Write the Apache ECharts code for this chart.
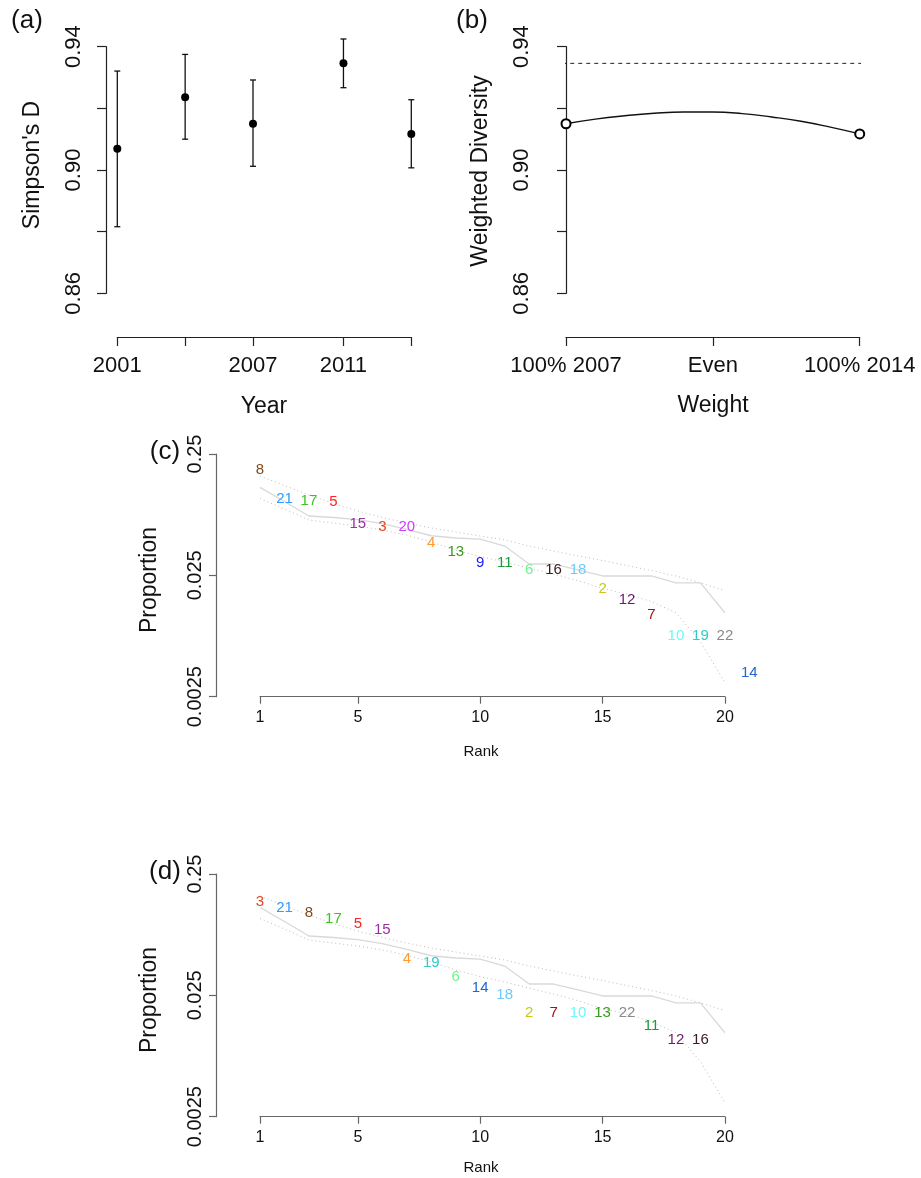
<!DOCTYPE html>
<html><head><meta charset="utf-8">
<script src="https://cdn.jsdelivr.net/npm/echarts@6/dist/echarts.min.js"></script>
<style>html,body{margin:0;padding:0;background:#fff}#chart{width:921px;height:1178px}</style>
</head><body><div id="chart"></div>
<script>
// ---------- Panel (a): Simpson's D by year ----------
const years = [2001, 2004, 2007, 2011, 2014];
const simpsonD = [0.9069, 0.9236, 0.9150, 0.9346, 0.9117];
const simpsonLow = [0.8816, 0.9100, 0.9012, 0.9267, 0.9007];
const simpsonHigh = [0.9321, 0.9375, 0.9292, 0.9425, 0.9228];
const yearTicks = [2001, 2004, 2007, 2011, 2014];
const yearLabels = [2001, 2007, 2011];
const diversityTicks = [0.86, 0.88, 0.90, 0.92, 0.94];
const diversityLabels = [0.86, 0.90, 0.94];

// ---------- Panel (b): weighted diversity ----------
const weights = [0, 0.1, 0.2, 0.3, 0.4, 0.5, 0.6, 0.7, 0.8, 0.9, 1.0];
const weightedDiversity = [0.9150, 0.9165, 0.9176, 0.9184, 0.9188, 0.9188, 0.9183, 0.9172, 0.9158, 0.9139, 0.9117];
const weightTicks = [0, 0.5, 1];
const weightTickLabels = ['100% 2007', 'Even', '100% 2014'];
const maxDiversity = 0.9346;
const weightPlotRange = [-0.04, 1.04];

// ---------- Panels (c), (d): rank abundance ----------
const ranks = [1, 2, 3, 4, 5, 6, 7, 8, 9, 10, 11, 12, 13, 14, 15, 16, 17, 18, 19, 20];
const nullMedian = [0.1328, 0.1015, 0.0771, 0.0749, 0.0721, 0.0668, 0.0598, 0.0530, 0.0508, 0.0497, 0.0436, 0.0310, 0.0310, 0.0277, 0.0247, 0.0247, 0.0247, 0.0217, 0.0217, 0.0123];
const nullUpper = [0.1646, 0.1375, 0.1148, 0.0977, 0.0847, 0.0749, 0.0675, 0.0614, 0.0569, 0.0527, 0.0489, 0.0436, 0.0397, 0.0361, 0.0331, 0.0301, 0.0274, 0.0247, 0.0217, 0.0187];
const nullLower = [0.1075, 0.0880, 0.0714, 0.0675, 0.0637, 0.0591, 0.0537, 0.0470, 0.0404, 0.0357, 0.0322, 0.0287, 0.0256, 0.0226, 0.0195, 0.0175, 0.0152, 0.0123, 0.00711, 0.00327];
const rankTicks = [1, 5, 10, 15, 20];
const proportionTicks = [0.0025, 0.025, 0.25];

const speciesC = ['8', '21', '17', '5', '15', '3', '20', '4', '13', '9', '11', '6', '16', '18', '2', '12', '7', '10', '19', '22', '14'];
const proportionC = [0.1845, 0.1064, 0.1031, 0.0999, 0.0662, 0.0629, 0.0629, 0.0464, 0.0391, 0.0314, 0.0314, 0.0277, 0.0277, 0.0277, 0.01953, 0.01563, 0.01177, 0.0079, 0.0079, 0.0079, 0.00394];
const speciesD = ['3', '21', '8', '17', '5', '15', '4', '19', '6', '14', '18', '2', '7', '10', '13', '22', '11', '12', '16'];
const proportionD = [0.1478, 0.1303, 0.1199, 0.1058, 0.0967, 0.0863, 0.0495, 0.0464, 0.0356, 0.02855, 0.0251, 0.01777, 0.01777, 0.01777, 0.01777, 0.01777, 0.01403, 0.0107, 0.0107];

const speciesColors = {
  '2': '#C9C914', '3': '#E0481F', '4': '#FF9A2E', '5': '#FF2222', '6': '#6CF58C',
  '7': '#A31515', '8': '#7E4A1E', '9': '#1A1AFF', '10': '#6CF9F9', '11': '#1A9A3A',
  '12': '#6E1A6E', '13': '#3A9A1F', '14': '#1F66D1', '15': '#9A2FA0', '16': '#3A1C1C',
  '17': '#3BC41F', '18': '#6CCBFF', '19': '#2FCACA', '20': '#D03BFF', '21': '#2E9BFF',
  '22': '#8A8A8A'
};

const FONT = '"Liberation Sans", Arial, Helvetica, sans-serif';
const chart = echarts.init(document.getElementById('chart'), null, {renderer: 'canvas'});

const darkAxis = '#222';
const greyAxis = '#666';

function topAxisX(gridIndex, min, max, ticks, labels, fmt) {
  return {
    type: 'value', gridIndex, min, max, offset: 43.7,
    axisLine: {show: true, onZero: false, lineStyle: {color: darkAxis, width: 1.2}},
    axisTick: {show: true, length: 9, customValues: ticks, lineStyle: {color: darkAxis, width: 1.2}},
    axisLabel: {show: true, customValues: labels, formatter: fmt, margin: 18, fontSize: 22, color: '#111', fontFamily: FONT},
    splitLine: {show: false}
  };
}
function topAxisY(gridIndex, offset) {
  return {
    type: 'value', gridIndex, min: 0.86, max: 0.94, interval: 0.02, offset,
    axisLine: {show: true, lineStyle: {color: darkAxis, width: 1.2}},
    axisTick: {show: true, length: 9, customValues: diversityTicks, lineStyle: {color: darkAxis, width: 1.2}},
    axisLabel: {show: true, customValues: diversityLabels, rotate: 90, margin: 21, fontSize: 22, color: '#111', fontFamily: FONT,
      formatter: v => v.toFixed(2)},
    splitLine: {show: false}
  };
}
function rankAxisX(gridIndex) {
  return {
    type: 'value', gridIndex, min: 1, max: 20,
    axisLine: {show: true, onZero: false, lineStyle: {color: greyAxis, width: 1.2}},
    axisTick: {show: true, length: 7, customValues: rankTicks, lineStyle: {color: greyAxis, width: 1.2}},
    axisLabel: {show: true, customValues: rankTicks, margin: 13, fontSize: 16, color: '#111', fontFamily: FONT,
      formatter: v => String(Math.round(v))},
    splitLine: {show: false}
  };
}
function propAxisY(gridIndex) {
  return {
    type: 'log', logBase: 10, gridIndex, min: 0.0025, max: 0.25, offset: 44,
    axisLine: {show: true, lineStyle: {color: greyAxis, width: 1.2}},
    axisTick: {show: true, length: 7, customValues: proportionTicks, lineStyle: {color: greyAxis, width: 1.2}},
    axisLabel: {show: true, customValues: proportionTicks, rotate: 90, margin: 11, fontSize: 20, color: '#111', fontFamily: FONT,
      formatter: v => String(parseFloat(Number(v).toPrecision(3)))},
    splitLine: {show: false}, minorTick: {show: false}, minorSplitLine: {show: false}
  };
}

function nullLines(xi, yi) {
  const mk = (vals, type, color, width) => ({
    type: 'line', xAxisIndex: xi, yAxisIndex: yi, symbol: 'none', silent: true, z: 1,
    data: ranks.map((r, i) => [r, vals[i]]),
    lineStyle: {color, width, type}
  });
  return [
    mk(nullUpper, [1, 3], '#bdbdbd', 1),
    mk(nullLower, [1, 3], '#bdbdbd', 1),
    mk(nullMedian, 'solid', '#d9d9d9', 1.3)
  ];
}
function speciesLabels(xi, yi, species, props) {
  return {
    type: 'scatter', xAxisIndex: xi, yAxisIndex: yi, clip: false, z: 5, silent: true,
    symbolSize: 0, itemStyle: {color: 'transparent', opacity: 1},
    data: species.map((s, i) => ({name: s, value: [i + 1, props[i]],
      label: {color: speciesColors[s], textBorderWidth: 0}})),
    label: {show: true, position: 'inside', formatter: p => p.name, fontSize: 15, fontFamily: FONT,
      opacity: 1, textBorderWidth: 0}
  };
}

const panelText = (text, x, y, size, rot) => ({
  type: 'text', x, y, rotation: rot || 0,
  style: {text, fontSize: size, fontFamily: FONT, fill: '#111', align: 'center', verticalAlign: 'middle'}
});

const option = {
  animation: false,
  backgroundColor: '#fff',
  textStyle: {fontFamily: FONT},
  grid: [
    {left: 117.3, top: 46.7, width: 294, height: 246.6, containLabel: false, outerBoundsMode: 'none'},
    {left: 566, top: 46.7, width: 293.7, height: 246.6, containLabel: false, outerBoundsMode: 'none'},
    {left: 260, top: 454, width: 464.9, height: 242.7, containLabel: false, outerBoundsMode: 'none'},
    {left: 260, top: 874, width: 464.9, height: 242.7, containLabel: false, outerBoundsMode: 'none'}
  ],
  xAxis: [
    topAxisX(0, 2001, 2014, yearTicks, yearLabels, v => String(Math.round(v))),
    topAxisX(1, 0, 1, weightTicks, weightTicks, v => weightTickLabels[weightTicks.indexOf(Math.round(v * 2) / 2)] || ''),
    rankAxisX(2),
    rankAxisX(3)
  ],
  yAxis: [
    topAxisY(0, 11.3),
    topAxisY(1, 11.7),
    propAxisY(2),
    propAxisY(3)
  ],
  graphic: [
    panelText('(a)', 27, 21, 26),
    panelText('(b)', 472, 21, 26),
    panelText('(c)', 165, 452, 26),
    panelText('(d)', 165, 872, 26),
    panelText("Simpson's D", 33, 165, 23, Math.PI / 2),
    panelText('Weighted Diversity', 481, 171, 23, Math.PI / 2),
    panelText('Year', 264, 407, 23),
    panelText('Weight', 713, 406, 23),
    panelText('Proportion', 150, 580, 23, Math.PI / 2),
    panelText('Proportion', 150, 1000, 23, Math.PI / 2),
    panelText('Rank', 481, 752, 15),
    panelText('Rank', 481, 1168, 15)
  ],
  series: [
    // (a) error bars
    {
      type: 'custom', xAxisIndex: 0, yAxisIndex: 0, clip: false, silent: true, z: 2,
      data: years.map((y, i) => [y, simpsonLow[i], simpsonHigh[i]]),
      renderItem: (params, api) => {
        const lo = api.coord([api.value(0), api.value(1)]);
        const hi = api.coord([api.value(0), api.value(2)]);
        const w = 3;
        const st = {stroke: '#111', lineWidth: 1.3};
        return {type: 'group', children: [
          {type: 'line', shape: {x1: lo[0], y1: lo[1], x2: hi[0], y2: hi[1]}, style: st},
          {type: 'line', shape: {x1: lo[0] - w, y1: lo[1], x2: lo[0] + w, y2: lo[1]}, style: st},
          {type: 'line', shape: {x1: hi[0] - w, y1: hi[1], x2: hi[0] + w, y2: hi[1]}, style: st}
        ]};
      }
    },
    {
      type: 'scatter', xAxisIndex: 0, yAxisIndex: 0, clip: false, z: 3, silent: true,
      symbol: 'circle', symbolSize: 8, itemStyle: {color: '#000', opacity: 1},
      data: years.map((y, i) => [y, simpsonD[i]])
    },
    // (b)
    {
      type: 'line', xAxisIndex: 1, yAxisIndex: 1, clip: false, symbol: 'none', silent: true,
      data: weightPlotRange.map(w => [w, maxDiversity]),
      lineStyle: {color: '#222', width: 1, type: [4, 4]}
    },
    {
      type: 'line', xAxisIndex: 1, yAxisIndex: 1, smooth: true, symbol: 'none', silent: true,
      data: weights.map((w, i) => [w, weightedDiversity[i]]),
      lineStyle: {color: '#111', width: 1.4}
    },
    {
      type: 'scatter', xAxisIndex: 1, yAxisIndex: 1, clip: false, silent: true, z: 4,
      symbol: 'circle', symbolSize: 9,
      itemStyle: {color: '#fff', borderColor: '#000', borderWidth: 2, opacity: 1},
      data: [[weights[0], weightedDiversity[0]], [weights[weights.length - 1], weightedDiversity[weightedDiversity.length - 1]]]
    },
    // (c)
    ...nullLines(2, 2),
    speciesLabels(2, 2, speciesC, proportionC),
    // (d)
    ...nullLines(3, 3),
    speciesLabels(3, 3, speciesD, proportionD)
  ]
};
chart.setOption(option);
</script>
</body></html>
